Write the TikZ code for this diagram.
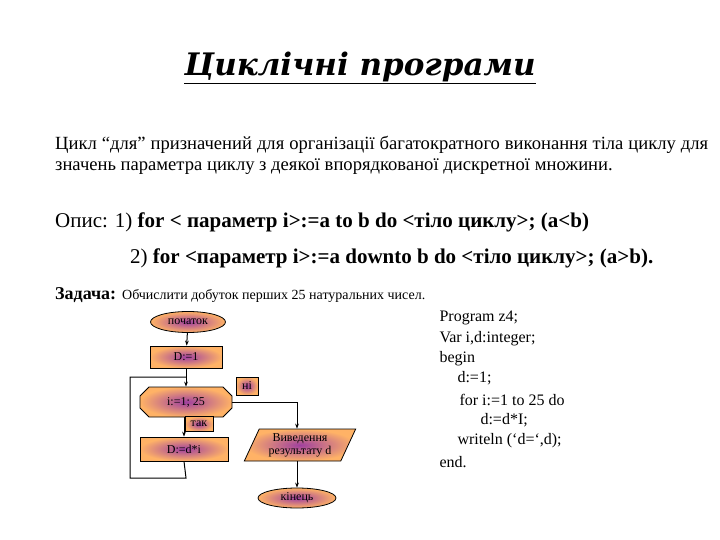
\documentclass[tikz,border=0pt]{standalone}
\usepackage{fontspec}
\setmainfont{Liberation Serif}
\newfontfamily\titlefont{DejaVu Serif}
\usetikzlibrary{shapes.geometric,shapes.misc,arrows.meta}
\tikzset{
 fc/.style={draw,line width=0.8pt,inner color=violet!75,outer color=orange!60,font=\fontsize{12}{14}\selectfont,inner sep=1pt},
 term/.style={fc,ellipse,minimum width=75pt,minimum height=21pt},
 proc/.style={fc,rectangle,minimum width=72pt,minimum height=22pt},
 lbl/.style={fc,rectangle,minimum height=16pt},
 conn/.style={line width=1pt},
 arr/.style={conn,-{Stealth[length=5pt]}},
 prog/.style={anchor=west,font=\fontsize{16}{18}\selectfont}
}
\begin{document}
\begin{tikzpicture}[x=1pt,y=-1pt]
\useasboundingbox (0,0) rectangle (720,540);
\node (title) at (360,68) {\titlefont\bfseries\itshape\fontsize{31}{36}\selectfont\underline{Циклічні програми}};
\node[anchor=north west,text width=653pt,align=justify,inner sep=0pt,font=\fontsize{18.6}{21}\selectfont] (par) at (55,136)
 {Цикл “для” призначений для організації багатократного виконання тіла циклу для значень параметра циклу з деякої впорядкованої дискретної множини.};
\node[anchor=west,inner sep=0pt,font=\fontsize{21}{24}\selectfont] (op1) at (55,222) {Опис: 1) \textbf{for < параметр і>:=a to b do <тіло циклу>; (a<b)}};
\node[anchor=west,inner sep=0pt,font=\fontsize{21}{24}\selectfont] (op2) at (130,258) {2) \textbf{for <параметр і>:=a downto b do <тіло циклу>; (a>b).}};
\node[anchor=west,inner sep=0pt] (task) at (55,295) {\fontsize{18}{20}\selectfont\textbf{Задача:} \fontsize{14}{16}\selectfont Обчислити добуток перших 25 натуральних чисел.};

\node[term] (start) at (188,322) {початок};
\node[proc] (init) at (186,357) {D:=1};
\node[fc,chamfered rectangle,chamfered rectangle xsep=14pt,minimum width=92pt,minimum height=30pt] (cond) at (186,402) {i:=1; 25};
\node[proc,minimum width=88pt,minimum height=24pt] (body) at (184,449) {D:=d*i};
\node[lbl,minimum width=28pt,minimum height=15pt] (yes) at (199,424) {так};
\node[lbl,minimum width=22pt,minimum height=18pt] (no) at (247,386) {ні};
\node[fc,trapezium,trapezium left angle=65,trapezium right angle=115,minimum width=100pt,minimum height=32pt,align=center,font=\fontsize{12}{13}\selectfont] (out) at (300,445) {Виведення\\результату d};
\node[term,minimum width=78pt,minimum height=20pt] (end) at (297,498) {кінець};

\coordinate (j) at (186,377);
\coordinate (b1) at (186,478);
\coordinate (b2) at (130,478);
\coordinate (b3) at (130,377);
\coordinate (r1) at (297,402);

\draw[arr] (start) -- (init);
\draw[arr] (init) -- (cond);
\draw[arr] (cond.south -| body.north) -- (body);
\draw[conn] (body.south) -- (b1) -- (b2) -- (b3) -- (j);
\draw[conn] (cond.east) -- (r1);
\draw[arr] (r1) -- (out.north -| r1);
\draw[arr] (out.south -| end) -- (end);

\node[prog] (p1) at (436,318) {Program z4;};
\node[prog] (p2) at (436,339) {Var i,d:integer;};
\node[prog] (p3) at (436,359) {begin};
\node[prog] (p4) at (454,378) {d:=1;};
\node[prog] (p5) at (456,400) {for i:=1 to 25 do};
\node[prog] (p6) at (477,420) {d:=d*I;};
\node[prog] (p7) at (454,441) {writeln (‘d=‘,d);};
\node[prog] (p8) at (436,462) {end.};
\end{tikzpicture}
\end{document}
